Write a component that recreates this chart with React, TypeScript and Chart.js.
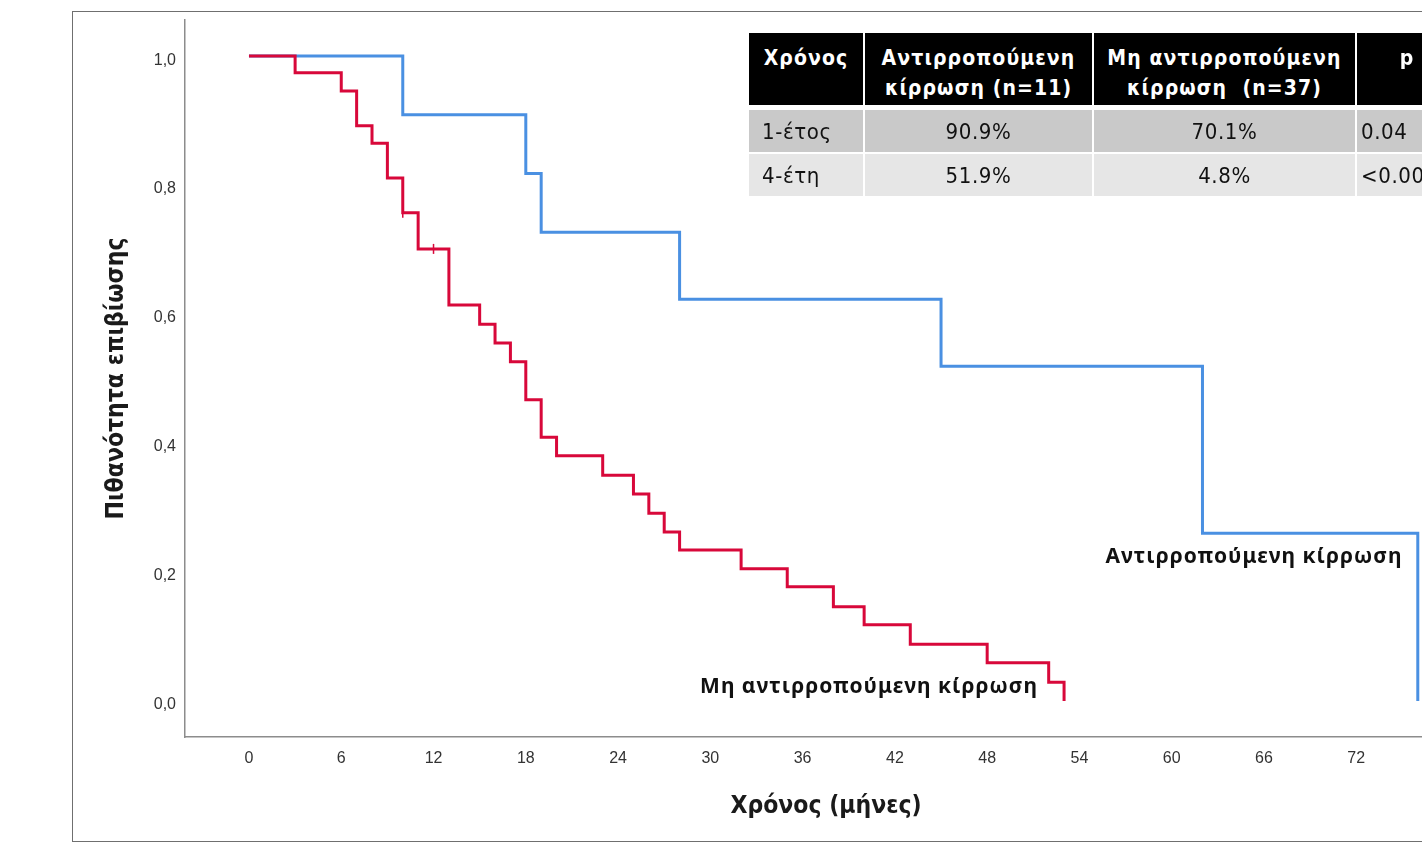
import React, { useEffect, useRef } from "react";
import { Chart, registerables } from "chart.js";

Chart.register(...registerables);

// Kaplan–Meier survival, compensated cirrhosis (n=11): event times (months) and survival after each step
const COMPENSATED_TIMES = [0, 10, 18, 19, 28, 45, 62, 76];
const COMPENSATED_SURVIVAL = [1.0, 0.909, 0.818, 0.727, 0.623, 0.519, 0.26, 0.0];

// Kaplan–Meier survival, decompensated cirrhosis (n=37)
const DECOMPENSATED_TIMES = [
  0, 3, 6, 7, 8, 9, 10, 11, 13, 15, 16, 17, 18, 19, 20, 23, 25, 26, 27, 28, 32, 35, 38, 40, 43, 48, 52, 53,
];
const DECOMPENSATED_SURVIVAL = [
  1.0, 0.974, 0.946, 0.892, 0.865, 0.811, 0.757, 0.701, 0.614, 0.584, 0.555, 0.526, 0.467, 0.409, 0.38,
  0.35, 0.321, 0.291, 0.262, 0.234, 0.205, 0.177, 0.146, 0.118, 0.088, 0.059, 0.029, 0.0,
];

// Censored observations on the decompensated curve
const DECOMPENSATED_CENSORED_TIMES = [10, 12];
const DECOMPENSATED_CENSORED_SURVIVAL = [0.757, 0.701];

// Axis ticks
const X_TICKS = [0, 6, 12, 18, 24, 30, 36, 42, 48, 54, 60, 66, 72, 78];
const Y_TICKS = [0, 0.2, 0.4, 0.6, 0.8, 1.0];

// Curve names, with the point (months, survival) their right edge sits at
const CURVE_LABEL_TEXTS = ["Αντιρροπούμενη κίρρωση", "Μη αντιρροπούμενη κίρρωση"];
const CURVE_LABEL_TIMES = [75.0, 51.3];
const CURVE_LABEL_SURVIVAL = [0.223, 0.022];

// Summary table
const TABLE_HEADER = ["Χρόνος", "Αντιρροπούμενη\nκίρρωση (n=11)", "Μη αντιρροπούμενη\nκίρρωση  (n=37)", "p"];
const TABLE_ROW_LABELS = ["1-έτος", "4-έτη"];
const TABLE_COMPENSATED = ["90.9%", "51.9%"];
const TABLE_DECOMPENSATED = ["70.1%", "4.8%"];
const TABLE_P = ["0.04", "<0.001"];

const RED = "#d8083a";
const BLUE = "#4a90e2";
const AXIS_GREY = "#8c8c8c";
const TITLE_FONT = '"Liberation Sans Narrow", "DejaVu Sans Condensed", sans-serif';
const TICK_FONT = '"Liberation Sans", Arial, sans-serif';

const curveLabelsPlugin = {
  id: "curveLabels",
  afterDatasetsDraw(chart: any) {
    const { ctx, scales } = chart;
    const x = scales.x;
    const y = scales.y;
    ctx.save();
    ctx.font = 'bold 21px "Noto Sans"';
    (ctx as any).letterSpacing = "1px";
    ctx.fillStyle = "#111";
    ctx.textAlign = "right";
    ctx.textBaseline = "middle";
    CURVE_LABEL_TEXTS.forEach((text, i) => {
      ctx.fillText(text, x.getPixelForValue(CURVE_LABEL_TIMES[i]), y.getPixelForValue(CURVE_LABEL_SURVIVAL[i]));
    });
    ctx.restore();
  },
};

function SurvivalTable() {
  const cols = [114, 227, 261, 100];
  const bodyRows = TABLE_ROW_LABELS.map((label, i) => [label, TABLE_COMPENSATED[i], TABLE_DECOMPENSATED[i], TABLE_P[i]]);
  const rowBg = ["#c9c9c9", "#e6e6e6"];
  const bodyGridRows = [3, 5];
  return (
    <div
      style={{
        position: "absolute",
        left: 749,
        top: 33,
        display: "grid",
        gridTemplateColumns: cols.map((c) => c + "px").join(" "),
        gridTemplateRows: "72px 5px 42px 2px 42px",
        columnGap: 2,
        fontFamily: '"DejaVu Sans Condensed", "DejaVu Sans", sans-serif',
      }}
    >
      {TABLE_HEADER.map((h, j) => (
        <div
          key={"h" + j}
          style={{
            gridRow: 1,
            gridColumn: j + 1,
            background: "#000",
            color: "#fff",
            fontWeight: 700,
            fontSize: 21,
            lineHeight: "30px",
            letterSpacing: "1.1px",
            textAlign: "center",
            whiteSpace: "pre",
            paddingTop: 10,
            boxSizing: "border-box",
            overflow: "hidden",
          }}
        >
          {h}
        </div>
      ))}
      {bodyRows.map((row, i) =>
        row.map((v, j) => (
          <div
            key={"r" + i + "-" + j}
            style={{
              gridRow: bodyGridRows[i],
              gridColumn: j + 1,
              background: rowBg[i],
              color: "#111",
              fontSize: 22,
              letterSpacing: "0.6px",
              display: "flex",
              alignItems: "center",
              justifyContent: j === 0 || j === 3 ? "flex-start" : "center",
              paddingLeft: j === 0 ? 13 : j === 3 ? 4 : 0,
              whiteSpace: "pre",
              overflow: "hidden",
            }}
          >
            {v}
          </div>
        ))
      )}
    </div>
  );
}

export default function App() {
  const canvasRef = useRef<HTMLCanvasElement>(null);

  useEffect(() => {
    const canvas = canvasRef.current;
    if (!canvas) return;
    const chart = new Chart(canvas, {
      type: "line",
      data: {
        datasets: [
          {
            label: "Λογοκριμένα",
            data: DECOMPENSATED_CENSORED_TIMES.map((t, i) => ({ x: t, y: DECOMPENSATED_CENSORED_SURVIVAL[i] })),
            showLine: false,
            pointStyle: "line",
            rotation: 90,
            pointRadius: 5,
            pointBorderWidth: 1.5,
            pointBorderColor: RED,
            borderColor: RED,
            order: 0,
          } as any,
          {
            label: "Μη αντιρροπούμενη κίρρωση",
            data: DECOMPENSATED_TIMES.map((t, i) => ({ x: t, y: DECOMPENSATED_SURVIVAL[i] })),
            stepped: true,
            borderColor: RED,
            borderWidth: 3,
            borderJoinStyle: "miter",
            borderCapStyle: "butt",
            pointRadius: 0,
            fill: false,
            order: 1,
          },
          {
            label: "Αντιρροπούμενη κίρρωση",
            data: COMPENSATED_TIMES.map((t, i) => ({ x: t, y: COMPENSATED_SURVIVAL[i] })),
            stepped: true,
            borderColor: BLUE,
            borderWidth: 3,
            borderJoinStyle: "miter",
            borderCapStyle: "butt",
            pointRadius: 0,
            fill: false,
            order: 2,
          },
        ],
      },
      options: {
        responsive: false,
        animation: false,
        layout: { padding: { left: 0, top: 20, right: 33, bottom: 0 } },
        plugins: {
          legend: { display: false },
          tooltip: { enabled: false },
        },
        scales: {
          x: {
            type: "linear",
            min: -4.16,
            max: 79.2,
            grid: { display: false, drawTicks: false },
            border: { display: true, color: AXIS_GREY, width: 1.5 },
            afterBuildTicks: (scale: any) => {
              scale.ticks = X_TICKS.map((v) => ({ value: v }));
            },
            afterFit: (scale: any) => {
              scale.height = 110;
            },
            ticks: {
              padding: 12,
              color: "#333",
              font: { family: TICK_FONT, size: 16 },
              maxRotation: 0,
              autoSkip: false,
              callback: (v: any) => String(v),
            },
            title: {
              display: true,
              text: "Χρόνος (μήνες)",
              color: "#1a1a1a",
              font: { family: TITLE_FONT, size: 24.5, weight: "bold" },
              padding: { top: 0, bottom: 26 },
            },
          },
          y: {
            type: "linear",
            min: -0.056,
            max: 1.056,
            grid: { display: false, drawTicks: false },
            border: { display: true, color: AXIS_GREY, width: 1.5 },
            afterBuildTicks: (scale: any) => {
              scale.ticks = Y_TICKS.map((v) => ({ value: v }));
            },
            afterFit: (scale: any) => {
              scale.width = 185;
            },
            ticks: {
              padding: 9,
              labelOffset: 4,
              color: "#333",
              font: { family: TICK_FONT, size: 16 },
              callback: (v: any) => Number(v).toFixed(1).replace(".", ","),
            },
            title: {
              display: true,
              text: "Πιθανότητα επιβίωσης",
              color: "#1a1a1a",
              font: { family: TITLE_FONT, size: 24.5, weight: "bold" },
              padding: { top: 102, bottom: 0 },
            },
          },
        },
      },
      plugins: [curveLabelsPlugin],
    });
    return () => chart.destroy();
  }, []);

  return (
    <div style={{ position: "fixed", left: 0, top: 0, width: "100vw", height: "100vh", overflow: "hidden", background: "#fff" }}>
      <div
        style={{
          position: "absolute",
          left: 72,
          top: 11,
          width: 1600,
          height: 829,
          border: "1.5px solid #6f6f6f",
        }}
      />
      <canvas
        ref={canvasRef}
        width={1500}
        height={847}
        style={{ position: "absolute", left: 0, top: 0, width: 1500, height: 847 }}
      />
      <SurvivalTable />
    </div>
  );
}
